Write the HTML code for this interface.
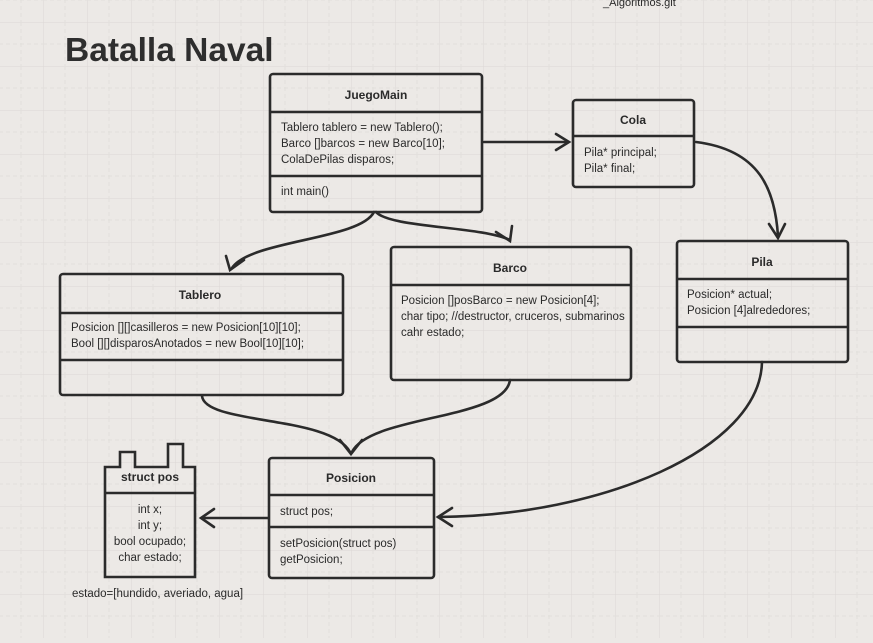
<!DOCTYPE html>
<html><head><meta charset="utf-8"><style>
html,body{margin:0;padding:0;}
body{width:873px;height:638px;overflow:hidden;background:#ece9e6;font-family:"Liberation Sans",Arial,sans-serif;}
svg text{font-family:"Liberation Sans",Arial,sans-serif;fill:#2a2a2a;}
</style></head><body>
<svg width="873" height="638" xmlns="http://www.w3.org/2000/svg">
<defs>
<pattern id="g" width="44" height="44" patternUnits="userSpaceOnUse" x="-1" y="22">
<path d="M0 0H44M0 0V44" stroke="#dcd8d5" stroke-width="1"/>
<path d="M0 22H44M22 0V44" stroke="#e2dfdc" stroke-width="1" stroke-dasharray="4 3"/>
</pattern>
</defs>
<rect width="873" height="638" fill="#ece9e6"/>
<rect width="873" height="638" fill="url(#g)"/>
<text x="603" y="6" font-size="11" fill="#444">_Algoritmos.git</text>
<text x="65" y="61" font-size="33.5" font-weight="bold" style="fill:#2e2e2e">Batalla Naval</text>

<g fill="none" stroke="#2b2b2b" stroke-width="2.6" stroke-linecap="round">
<path d="M484 142 H568"/><path d="M556 134 L569 142 L556 150"/>
<path d="M696 142 C760 150 775 190 778 236"/><path d="M769 224 L778 238 L785 224"/>
<path d="M374 212 C360 240 250 240 232 268"/><path d="M226 256 L230 270 L244 260"/>
<path d="M376 212 C390 228 480 226 510 240"/><path d="M496 232 L510 241 L512 226"/>
<path d="M202 396 C205 425 330 415 350 452"/><path d="M510 380 C505 420 370 415 352 452"/><path d="M340 440 L351 454 L362 440"/>
<path d="M762 362 C760 450 600 516 438 517"/><path d="M452 508 L438 517 L452 526"/>
<path d="M268 518 H202"/><path d="M214 509 L201 518 L214 527"/>
<rect x="270" y="74" width="212" height="138" rx="3"/><path d="M271 112H481M271 176H481"/>
<rect x="573" y="100" width="121" height="87" rx="3"/><path d="M574 136H693"/>
<rect x="677" y="241" width="171" height="121" rx="3"/><path d="M678 279H847M678 327H847"/>
<rect x="60" y="274" width="283" height="121" rx="3"/><path d="M61 313H342M61 360H342"/>
<rect x="391" y="247" width="240" height="133" rx="3"/><path d="M392 285H630"/>
<rect x="269" y="458" width="165" height="120" rx="3"/><path d="M270 495H433M270 527H433"/>
<path d="M105 577 V467 H120 V452 H135 V467 H168 V444 H183 V467 H195 V577 Z"/><path d="M106 493H194"/>
</g>

<g font-size="12" font-weight="bold" text-anchor="middle">
<text x="376" y="99">JuegoMain</text>
<text x="633" y="124">Cola</text>
<text x="762" y="266">Pila</text>
<text x="200" y="299">Tablero</text>
<text x="510" y="272">Barco</text>
<text x="351" y="482">Posicion</text>
<text x="150" y="481">struct pos</text>
</g>
<g font-size="11.5">
<text x="281" y="131">Tablero tablero = new Tablero();</text>
<text x="281" y="147">Barco []barcos = new Barco[10];</text>
<text x="281" y="163">ColaDePilas disparos;</text>
<text x="281" y="195">int main()</text>
<text x="584" y="156">Pila* principal;</text>
<text x="584" y="172">Pila* final;</text>
<text x="687" y="298">Posicion* actual;</text>
<text x="687" y="314">Posicion [4]alrededores;</text>
<text x="71" y="331">Posicion [][]casilleros = new Posicion[10][10];</text>
<text x="71" y="347">Bool [][]disparosAnotados = new Bool[10][10];</text>
<text x="401" y="304">Posicion []posBarco = new Posicion[4];</text>
<text x="401" y="320">char tipo; //destructor, cruceros, submarinos</text>
<text x="401" y="336">cahr estado;</text>
<text x="280" y="515">struct pos;</text>
<text x="280" y="547">setPosicion(struct pos)</text>
<text x="280" y="563">getPosicion;</text>
<text x="72" y="597">estado=[hundido, averiado, agua]</text>
</g>
<g font-size="11.5" text-anchor="middle">
<text x="150" y="513">int x;</text>
<text x="150" y="529">int y;</text>
<text x="150" y="545">bool ocupado;</text>
<text x="150" y="561">char estado;</text>
</g>
</svg>
</body></html>
